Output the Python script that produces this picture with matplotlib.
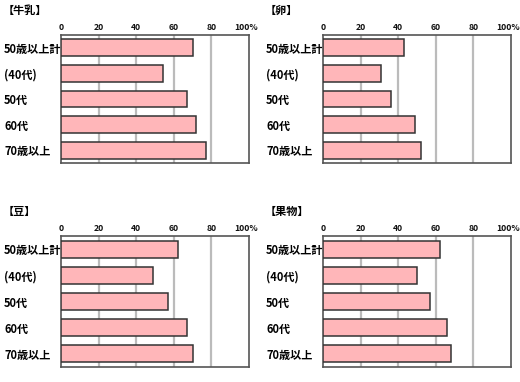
import numpy as np
import matplotlib
matplotlib.use("Agg")
import matplotlib.pyplot as plt
import matplotlib.transforms as mtransforms

plt.rcParams['font.family'] = ['Noto Sans CJK JP', 'DejaVu Sans']

categories = ['50歳以上計', '(40代)', '50代', '60代', '70歳以上']
titles = ['【牛乳】', '【卵】', '【豆】', '【果物】']
milk = [70, 54, 67, 72, 77]
egg = [43, 31, 36, 49, 52]
beans = [62, 49, 57, 67, 70]
fruit = [62, 50, 57, 66, 68]
series = [milk, egg, beans, fruit]
xticks = [0, 20, 40, 60, 80, 100]
xticklabels = ['0', '20', '40', '60', '80', '100%']

W, H = 520, 382
fig = plt.figure(figsize=(W / 100, H / 100), dpi=100)

# axes boxes in pixels: left, top, right, bottom
boxes = [(61, 35, 249, 163), (323, 35, 511, 163),
         (61, 236, 249, 367), (323, 236, 511, 367)]

for box, title, vals in zip(boxes, titles, series):
    l, t, r, b = box
    ax = fig.add_axes([l / W, 1 - b / H, (r - l) / W, (b - t) / H])
    y = np.arange(len(categories))
    ax.barh(y, vals, height=0.65, color='#ffb6b9', edgecolor='#333333',
            linewidth=1.1, zorder=3)
    ax.set_xlim(0, 100)
    ax.set_ylim(len(categories) - 0.5, -0.5)
    for g in xticks[1:-1]:
        ax.axvline(g, color='#bbbbbb', linewidth=1.6, zorder=1)
    ax.xaxis.tick_top()
    ax.set_xticks(xticks)
    ax.set_xticklabels(xticklabels, fontsize=6.2, fontweight='bold',
                       color='#111111')
    ax.tick_params(axis='x', length=0, pad=2)
    # keep the "100%" label inside the figure like the original
    last = ax.get_xticklabels()[-1]
    last.set_transform(last.get_transform() +
                       mtransforms.ScaledTranslation(-3 / 100, 0, fig.dpi_scale_trans))
    ax.set_yticks(y)
    ax.set_yticklabels(categories, fontsize=8, fontweight='bold', ha='left')
    ax.tick_params(axis='y', length=0, pad=41)
    for s in ax.spines.values():
        s.set_color('#555555')
        s.set_linewidth(1.2)
    fig.text((l - 58) / W, 1 - (t - 25) / H, title, fontsize=8,
             fontweight='bold', va='center', ha='left')

fig.savefig('out.png', dpi=100)
